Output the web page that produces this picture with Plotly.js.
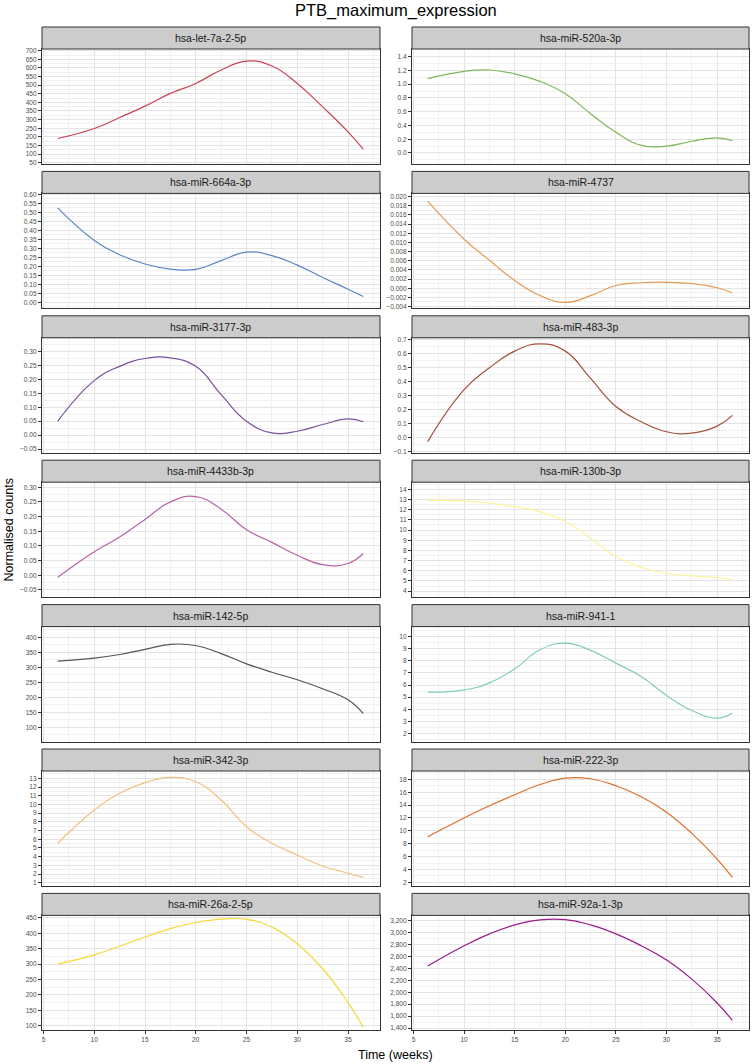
<!DOCTYPE html>
<html><head><meta charset="utf-8">
<script src="https://cdn.plot.ly/plotly-3.0.1.min.js"></script>
<style>html,body{margin:0;padding:0;background:#fff}</style>
</head><body><div id="chart" style="width:753px;height:1064px"></div>
<script>
// ---------- DATA ----------
const weeks = [6.4, 10, 12.5, 15, 17.5, 20, 22.5, 25, 27.5, 30, 32.5, 35, 36.5];
const mirnaNames = ["hsa-let-7a-2-5p","hsa-miR-520a-3p","hsa-miR-664a-3p","hsa-miR-4737",
  "hsa-miR-3177-3p","hsa-miR-483-3p","hsa-miR-4433b-3p","hsa-miR-130b-3p",
  "hsa-miR-142-5p","hsa-miR-941-1","hsa-miR-342-3p","hsa-miR-222-3p",
  "hsa-miR-26a-2-5p","hsa-miR-92a-1-3p"];
const let7a_2_5p  = [190, 248, 312, 378, 452, 510, 588, 640, 611, 510, 374, 229, 128];
const miR520a_3p  = [1.08, 1.185, 1.205, 1.15, 1.04, 0.86, 0.57, 0.30, 0.11, 0.10, 0.17, 0.22, 0.18];
const miR664a_3p  = [0.525, 0.344, 0.265, 0.213, 0.185, 0.183, 0.232, 0.279, 0.26, 0.207, 0.138, 0.073, 0.032];
const miR4737     = [0.019, 0.0107, 0.0061, 0.0017, -0.0016, -0.0031, -0.0016, 0.0006, 0.0012, 0.0013, 0.001, 0.0001, -0.001];
const miR3177_3p  = [0.05, 0.195, 0.246, 0.274, 0.276, 0.246, 0.145, 0.05, 0.008, 0.014, 0.038, 0.058, 0.048];
const miR483_3p   = [-0.03, 0.34, 0.496, 0.615, 0.667, 0.615, 0.42, 0.22, 0.112, 0.04, 0.03, 0.08, 0.157];
const miR4433b_3p = [-0.007, 0.08, 0.13, 0.19, 0.25, 0.268, 0.225, 0.155, 0.112, 0.068, 0.036, 0.04, 0.074];
const miR130b_3p  = [12.89, 12.86, 12.63, 12.3, 11.8, 10.83, 9.2, 7.4, 6.35, 5.76, 5.5, 5.34, 5.08];
const miR142_5p   = [321, 331, 343, 360, 377, 373, 346, 312, 284, 259, 229, 192, 146];
const miR941_1    = [5.41, 5.6, 6.18, 7.33, 8.9, 9.45, 8.85, 7.8, 6.7, 5.14, 3.9, 3.27, 3.7];
const miR342_3p   = [5.53, 9.36, 11.28, 12.5, 13.1, 12.6, 10.5, 7.44, 5.53, 4.19, 2.92, 2.08, 1.62];
const miR222_3p   = [9.09, 12.0, 13.9, 15.6, 17.2, 18.2, 18.1, 17.0, 15.3, 12.9, 9.6, 5.6, 2.77];
const miR26a_2_5p = [300, 330, 358, 388, 415, 435, 446, 445, 420, 365, 285, 175, 95];
const miR92a_1_3p = [2440, 2780, 2980, 3130, 3215, 3220, 3130, 2980, 2780, 2540, 2220, 1820, 1530];
const xTicks = [5, 10, 15, 20, 25, 30, 35];

const seriesValues = [let7a_2_5p, miR520a_3p, miR664a_3p, miR4737, miR3177_3p, miR483_3p,
  miR4433b_3p, miR130b_3p, miR142_5p, miR941_1, miR342_3p, miR222_3p, miR26a_2_5p, miR92a_1_3p];

// ---------- STYLE ----------
const colors = ["#cb4453","#7fb85a","#5a84c8","#e69a55","#7a4f9b","#a4513c","#b962a6",
  "#fbf59a","#555555","#80cdb8","#f2c07f","#df6f28","#f5d83a","#9a1a8a"];
const yRanges = [[42,710],[-0.16,1.51],[-0.034,0.606],[-0.0044,0.0207],[-0.063,0.348],[-0.11,0.71],
  [-0.075,0.317],[3.41,14.69],[53,436],[1.34,10.81],[0.62,13.84],[1.43,19.3],[85,458],[1360,3290]];
const yDticks = [50,0.2,0.05,0.002,0.05,0.1,0.05,1,50,1,1,2,50,200];
const yFormats = ["",".1f",".2f",".3f",".2f",".1f",".2f","","","","","","",","];

const FONT = "Liberation Sans, Arial, Helvetica, sans-serif";
const W = 753, H = 1064;
const PERIOD = 144.4, STRIP_TOP0 = 27, STRIP_H = 22, PANEL_H = 137;
const cols = [[42, 380], [412, 749]];

const traces = [];
const layout = {
  width: W, height: H, margin: {l:0, r:0, t:0, b:0},
  paper_bgcolor: "#fff", plot_bgcolor: "#fff", showlegend: false,
  font: {family: FONT, color: "#1a1a1a"},
  shapes: [], annotations: []
};

seriesValues.forEach((vals, i) => {
  const row = Math.floor(i / 2), col = i % 2;
  const stripTop = STRIP_TOP0 + row * PERIOD;
  const plotTop = stripTop + STRIP_H;
  const plotBot = stripTop + PANEL_H;
  const [c0, c1] = cols[col];
  const sfx = i === 0 ? "" : String(i + 1);
  traces.push({
    x: weeks, y: vals, xaxis: "x" + sfx, yaxis: "y" + sfx,
    type: "scatter", mode: "lines",
    line: {color: colors[i], width: 1.2, shape: "spline", smoothing: 1.3},
    hoverinfo: "x+y"
  });
  const bottomRow = row === 6;
  layout["xaxis" + sfx] = {
    domain: [c0 / W, c1 / W], anchor: "y" + sfx,
    range: [4.85, 38.15], tickmode: "array", tickvals: xTicks,
    showgrid: true, gridcolor: "#e4e4e4", gridwidth: 1,
    minor: {dtick: 2.5, tick0: 5, showgrid: true, gridcolor: "#f1f1f1", gridwidth: 1, ticks: ""},
    showline: true, mirror: true, linecolor: "#333", linewidth: 1, zeroline: false,
    showticklabels: bottomRow, ticks: bottomRow ? "outside" : "", ticklen: 3, tickcolor: "#333",
    tickfont: {size: 6.6, color: "#4d4d4d", family: FONT}
  };
  layout["yaxis" + sfx] = {
    domain: [1 - plotBot / H, 1 - plotTop / H], anchor: "x" + sfx,
    range: yRanges[i], tick0: 0, dtick: yDticks[i], tickformat: yFormats[i],
    showgrid: true, gridcolor: "#e4e4e4", gridwidth: 1,
    minor: {dtick: yDticks[i] / 2, tick0: 0, showgrid: true, gridcolor: "#f1f1f1", gridwidth: 1, ticks: ""},
    showline: true, mirror: true, linecolor: "#333", linewidth: 1, zeroline: false,
    ticks: "outside", ticklen: 3, tickcolor: "#333", tickwidth: 1,
    tickfont: {size: 6.6, color: "#4d4d4d", family: FONT}
  };
  layout.shapes.push({
    type: "rect", xref: "paper", yref: "paper",
    x0: c0 / W, x1: c1 / W, y0: 1 - plotTop / H, y1: 1 - stripTop / H,
    fillcolor: "#cccccc", line: {color: "#333", width: 1}, layer: "above"
  });
  layout.annotations.push({
    xref: "paper", yref: "paper", x: (c0 + c1) / 2 / W, y: 1 - (stripTop + STRIP_H / 2) / H,
    text: mirnaNames[i], showarrow: false, xanchor: "center", yanchor: "middle",
    font: {size: 10.5, color: "#1a1a1a", family: FONT}
  });
});

layout.annotations.push({
  xref: "paper", yref: "paper", x: 395.5 / W, y: 1 - 11 / H,
  text: "PTB_maximum_expression", showarrow: false, xanchor: "center", yanchor: "middle",
  font: {size: 16.5, color: "#000", family: FONT}
});
layout.annotations.push({
  xref: "paper", yref: "paper", x: 8 / W, y: 1 - 529.5 / H, textangle: -90,
  text: "Normalised counts", showarrow: false, xanchor: "center", yanchor: "middle",
  font: {size: 12.5, color: "#000", family: FONT}
});
layout.annotations.push({
  xref: "paper", yref: "paper", x: 395.5 / W, y: 1 - 1055 / H,
  text: "Time (weeks)", showarrow: false, xanchor: "center", yanchor: "middle",
  font: {size: 12.5, color: "#000", family: FONT}
});

Plotly.newPlot("chart", traces, layout, {staticPlot: true, displayModeBar: false});
</script>
</body></html>
